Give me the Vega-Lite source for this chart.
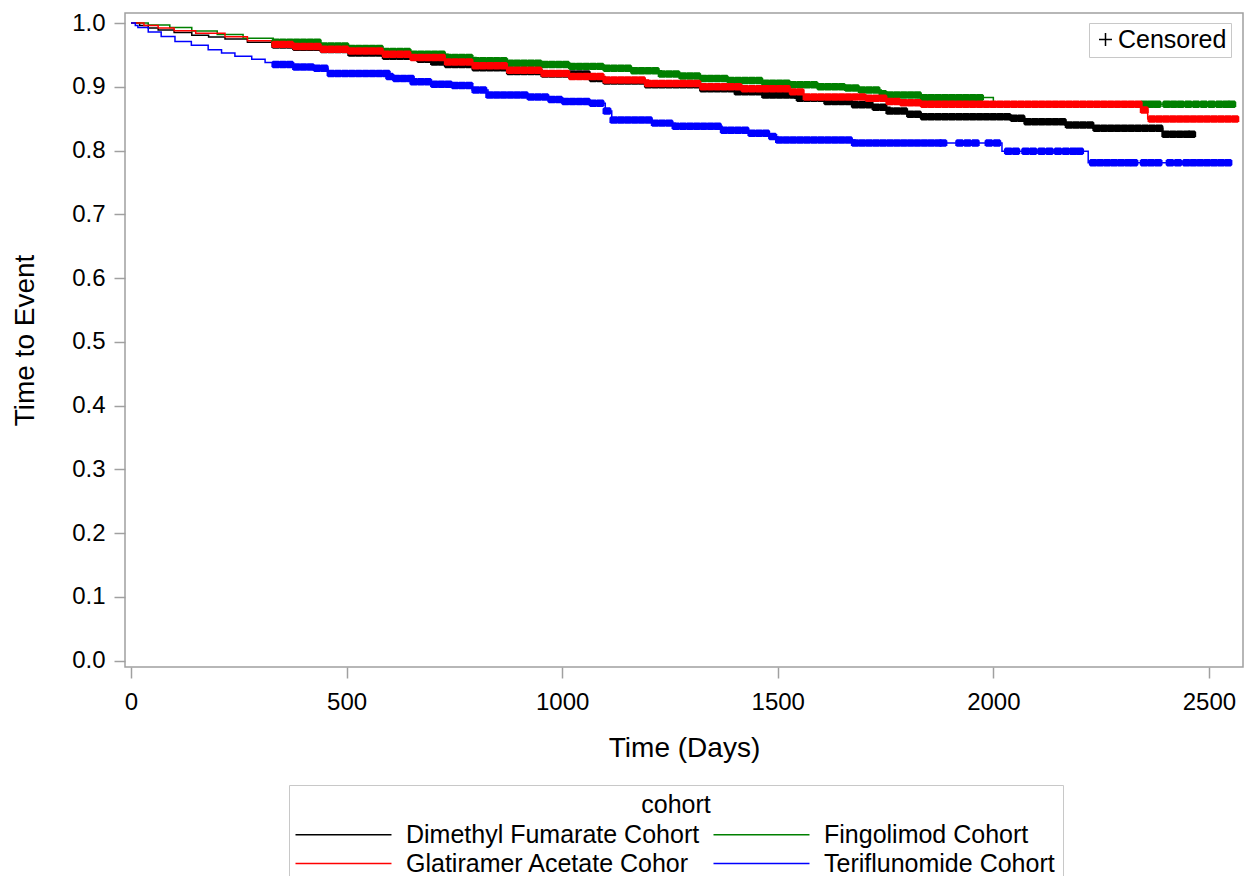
{
"$schema": "https://vega.github.io/schema/vega-lite/v6.json",
"width": 1118, "height": 654,
"autosize": {"type": "none"},
"padding": {"left": 125, "top": 13, "right": 10, "bottom": 209},
"background": "white",
"config": {
  "font": "Liberation Sans",
  "view": {"stroke": "#a0a0a0", "strokeWidth": 1.5},
  "axis": {"domain": false, "grid": false, "tickColor": "#a0a0a0", "tickWidth": 1.5, "tickSize": 11, "labelFontSize": 24, "labelColor": "black", "titleFontSize": 28, "titleFontWeight": "normal", "titleColor": "black"},
  "legend": {"labelFontSize": 25, "titleFontSize": 25, "titleFontWeight": "normal", "labelColor": "black", "titleColor": "black", "labelLimit": 500}
},
"datasets": {
"curve": [
{"c":"Dimethyl Fumarate Cohort","t":0,"s":1},{"c":"Dimethyl Fumarate Cohort","t":20,"s":0.996},{"c":"Dimethyl Fumarate Cohort","t":40,"s":0.992},{"c":"Dimethyl Fumarate Cohort","t":63,"s":0.989},{"c":"Dimethyl Fumarate Cohort","t":100,"s":0.985},{"c":"Dimethyl Fumarate Cohort","t":141,"s":0.981},{"c":"Dimethyl Fumarate Cohort","t":180,"s":0.978},{"c":"Dimethyl Fumarate Cohort","t":218,"s":0.975},{"c":"Dimethyl Fumarate Cohort","t":270,"s":0.97},{"c":"Dimethyl Fumarate Cohort","t":327,"s":0.9655},{"c":"Dimethyl Fumarate Cohort","t":380,"s":0.962},{"c":"Dimethyl Fumarate Cohort","t":438,"s":0.9585},{"c":"Dimethyl Fumarate Cohort","t":503,"s":0.953},{"c":"Dimethyl Fumarate Cohort","t":582,"s":0.948},{"c":"Dimethyl Fumarate Cohort","t":659,"s":0.943},{"c":"Dimethyl Fumarate Cohort","t":700,"s":0.939},{"c":"Dimethyl Fumarate Cohort","t":735,"s":0.935},{"c":"Dimethyl Fumarate Cohort","t":800,"s":0.93},{"c":"Dimethyl Fumarate Cohort","t":879,"s":0.924},{"c":"Dimethyl Fumarate Cohort","t":960,"s":0.92},{"c":"Dimethyl Fumarate Cohort","t":1060,"s":0.913},{"c":"Dimethyl Fumarate Cohort","t":1100,"s":0.909},{"c":"Dimethyl Fumarate Cohort","t":1200,"s":0.903},{"c":"Dimethyl Fumarate Cohort","t":1320,"s":0.897},{"c":"Dimethyl Fumarate Cohort","t":1400,"s":0.892},{"c":"Dimethyl Fumarate Cohort","t":1463,"s":0.887},{"c":"Dimethyl Fumarate Cohort","t":1540,"s":0.882},{"c":"Dimethyl Fumarate Cohort","t":1616,"s":0.877},{"c":"Dimethyl Fumarate Cohort","t":1680,"s":0.872},{"c":"Dimethyl Fumarate Cohort","t":1718,"s":0.868},{"c":"Dimethyl Fumarate Cohort","t":1760,"s":0.862},{"c":"Dimethyl Fumarate Cohort","t":1800,"s":0.857},{"c":"Dimethyl Fumarate Cohort","t":1825,"s":0.853},{"c":"Dimethyl Fumarate Cohort","t":2043,"s":0.8505},{"c":"Dimethyl Fumarate Cohort","t":2073,"s":0.845},{"c":"Dimethyl Fumarate Cohort","t":2166,"s":0.84},{"c":"Dimethyl Fumarate Cohort","t":2231,"s":0.835},{"c":"Dimethyl Fumarate Cohort","t":2393,"s":0.8255},{"c":"Dimethyl Fumarate Cohort","t":2463,"s":0.8255},
{"c":"Fingolimod Cohort","t":0,"s":1},{"c":"Fingolimod Cohort","t":40,"s":0.997},{"c":"Fingolimod Cohort","t":90,"s":0.993},{"c":"Fingolimod Cohort","t":141,"s":0.9875},{"c":"Fingolimod Cohort","t":200,"s":0.982},{"c":"Fingolimod Cohort","t":260,"s":0.976},{"c":"Fingolimod Cohort","t":330,"s":0.97},{"c":"Fingolimod Cohort","t":438,"s":0.964},{"c":"Fingolimod Cohort","t":500,"s":0.96},{"c":"Fingolimod Cohort","t":582,"s":0.9555},{"c":"Fingolimod Cohort","t":650,"s":0.951},{"c":"Fingolimod Cohort","t":735,"s":0.946},{"c":"Fingolimod Cohort","t":800,"s":0.941},{"c":"Fingolimod Cohort","t":879,"s":0.937},{"c":"Fingolimod Cohort","t":950,"s":0.935},{"c":"Fingolimod Cohort","t":1020,"s":0.932},{"c":"Fingolimod Cohort","t":1100,"s":0.929},{"c":"Fingolimod Cohort","t":1160,"s":0.925},{"c":"Fingolimod Cohort","t":1230,"s":0.92},{"c":"Fingolimod Cohort","t":1280,"s":0.917},{"c":"Fingolimod Cohort","t":1320,"s":0.913},{"c":"Fingolimod Cohort","t":1380,"s":0.91},{"c":"Fingolimod Cohort","t":1463,"s":0.9055},{"c":"Fingolimod Cohort","t":1530,"s":0.903},{"c":"Fingolimod Cohort","t":1600,"s":0.9},{"c":"Fingolimod Cohort","t":1650,"s":0.898},{"c":"Fingolimod Cohort","t":1695,"s":0.895},{"c":"Fingolimod Cohort","t":1740,"s":0.889},{"c":"Fingolimod Cohort","t":1760,"s":0.887},{"c":"Fingolimod Cohort","t":1825,"s":0.883},{"c":"Fingolimod Cohort","t":2000,"s":0.8725},{"c":"Fingolimod Cohort","t":2553,"s":0.8725},
{"c":"Glatiramer Acetate Cohor","t":0,"s":1},{"c":"Glatiramer Acetate Cohor","t":30,"s":0.996},{"c":"Glatiramer Acetate Cohor","t":63,"s":0.992},{"c":"Glatiramer Acetate Cohor","t":100,"s":0.988},{"c":"Glatiramer Acetate Cohor","t":150,"s":0.984},{"c":"Glatiramer Acetate Cohor","t":218,"s":0.9785},{"c":"Glatiramer Acetate Cohor","t":270,"s":0.972},{"c":"Glatiramer Acetate Cohor","t":327,"s":0.9665},{"c":"Glatiramer Acetate Cohor","t":380,"s":0.963},{"c":"Glatiramer Acetate Cohor","t":438,"s":0.959},{"c":"Glatiramer Acetate Cohor","t":500,"s":0.956},{"c":"Glatiramer Acetate Cohor","t":582,"s":0.951},{"c":"Glatiramer Acetate Cohor","t":650,"s":0.946},{"c":"Glatiramer Acetate Cohor","t":735,"s":0.939},{"c":"Glatiramer Acetate Cohor","t":800,"s":0.933},{"c":"Glatiramer Acetate Cohor","t":879,"s":0.926},{"c":"Glatiramer Acetate Cohor","t":950,"s":0.921},{"c":"Glatiramer Acetate Cohor","t":1020,"s":0.916},{"c":"Glatiramer Acetate Cohor","t":1100,"s":0.9106},{"c":"Glatiramer Acetate Cohor","t":1200,"s":0.905},{"c":"Glatiramer Acetate Cohor","t":1320,"s":0.9},{"c":"Glatiramer Acetate Cohor","t":1420,"s":0.897},{"c":"Glatiramer Acetate Cohor","t":1524,"s":0.892},{"c":"Glatiramer Acetate Cohor","t":1556,"s":0.884},{"c":"Glatiramer Acetate Cohor","t":1709,"s":0.882},{"c":"Glatiramer Acetate Cohor","t":1760,"s":0.877},{"c":"Glatiramer Acetate Cohor","t":1790,"s":0.875},{"c":"Glatiramer Acetate Cohor","t":1825,"s":0.8725},{"c":"Glatiramer Acetate Cohor","t":2345,"s":0.8635},{"c":"Glatiramer Acetate Cohor","t":2358,"s":0.8495},{"c":"Glatiramer Acetate Cohor","t":2560,"s":0.8495},
{"c":"Teriflunomide Cohort","t":0,"s":1},{"c":"Teriflunomide Cohort","t":10,"s":0.996},{"c":"Teriflunomide Cohort","t":16,"s":0.993},{"c":"Teriflunomide Cohort","t":40,"s":0.986},{"c":"Teriflunomide Cohort","t":70,"s":0.979},{"c":"Teriflunomide Cohort","t":102,"s":0.971},{"c":"Teriflunomide Cohort","t":140,"s":0.965},{"c":"Teriflunomide Cohort","t":179,"s":0.958},{"c":"Teriflunomide Cohort","t":210,"s":0.953},{"c":"Teriflunomide Cohort","t":241,"s":0.948},{"c":"Teriflunomide Cohort","t":280,"s":0.943},{"c":"Teriflunomide Cohort","t":311,"s":0.938},{"c":"Teriflunomide Cohort","t":329,"s":0.935},{"c":"Teriflunomide Cohort","t":380,"s":0.931},{"c":"Teriflunomide Cohort","t":427,"s":0.929},{"c":"Teriflunomide Cohort","t":457,"s":0.921},{"c":"Teriflunomide Cohort","t":595,"s":0.916},{"c":"Teriflunomide Cohort","t":612,"s":0.913},{"c":"Teriflunomide Cohort","t":652,"s":0.908},{"c":"Teriflunomide Cohort","t":689,"s":0.904},{"c":"Teriflunomide Cohort","t":751,"s":0.902},{"c":"Teriflunomide Cohort","t":791,"s":0.895},{"c":"Teriflunomide Cohort","t":828,"s":0.887},{"c":"Teriflunomide Cohort","t":914,"s":0.884},{"c":"Teriflunomide Cohort","t":967,"s":0.88},{"c":"Teriflunomide Cohort","t":1000,"s":0.877},{"c":"Teriflunomide Cohort","t":1060,"s":0.874},{"c":"Teriflunomide Cohort","t":1100,"s":0.862},{"c":"Teriflunomide Cohort","t":1115,"s":0.848},{"c":"Teriflunomide Cohort","t":1208,"s":0.843},{"c":"Teriflunomide Cohort","t":1262,"s":0.838},{"c":"Teriflunomide Cohort","t":1371,"s":0.832},{"c":"Teriflunomide Cohort","t":1431,"s":0.827},{"c":"Teriflunomide Cohort","t":1480,"s":0.822},{"c":"Teriflunomide Cohort","t":1500,"s":0.8165},{"c":"Teriflunomide Cohort","t":1679,"s":0.812},{"c":"Teriflunomide Cohort","t":2020,"s":0.799},{"c":"Teriflunomide Cohort","t":2220,"s":0.781},{"c":"Teriflunomide Cohort","t":2544,"s":0.781}
],
"censor": [
{"c":"Dimethyl Fumarate Cohort","t":336,"s":0.9655},{"c":"Dimethyl Fumarate Cohort","t":352,"s":0.9655},{"c":"Dimethyl Fumarate Cohort","t":368,"s":0.9655},
{"c":"Dimethyl Fumarate Cohort","t":384,"s":0.962},{"c":"Dimethyl Fumarate Cohort","t":400,"s":0.962},{"c":"Dimethyl Fumarate Cohort","t":416,"s":0.962},{"c":"Dimethyl Fumarate Cohort","t":432,"s":0.962},
{"c":"Dimethyl Fumarate Cohort","t":448,"s":0.9585},{"c":"Dimethyl Fumarate Cohort","t":464,"s":0.9585},{"c":"Dimethyl Fumarate Cohort","t":480,"s":0.9585},{"c":"Dimethyl Fumarate Cohort","t":496,"s":0.9585},
{"c":"Dimethyl Fumarate Cohort","t":512,"s":0.953},{"c":"Dimethyl Fumarate Cohort","t":528,"s":0.953},{"c":"Dimethyl Fumarate Cohort","t":544,"s":0.953},{"c":"Dimethyl Fumarate Cohort","t":560,"s":0.953},{"c":"Dimethyl Fumarate Cohort","t":576,"s":0.953},
{"c":"Dimethyl Fumarate Cohort","t":592,"s":0.948},{"c":"Dimethyl Fumarate Cohort","t":608,"s":0.948},{"c":"Dimethyl Fumarate Cohort","t":624,"s":0.948},{"c":"Dimethyl Fumarate Cohort","t":640,"s":0.948},{"c":"Dimethyl Fumarate Cohort","t":656,"s":0.948},
{"c":"Dimethyl Fumarate Cohort","t":672,"s":0.943},{"c":"Dimethyl Fumarate Cohort","t":688,"s":0.943},
{"c":"Dimethyl Fumarate Cohort","t":704,"s":0.939},{"c":"Dimethyl Fumarate Cohort","t":720,"s":0.939},
{"c":"Dimethyl Fumarate Cohort","t":736,"s":0.935},{"c":"Dimethyl Fumarate Cohort","t":752,"s":0.935},{"c":"Dimethyl Fumarate Cohort","t":768,"s":0.935},{"c":"Dimethyl Fumarate Cohort","t":784,"s":0.935},
{"c":"Dimethyl Fumarate Cohort","t":800,"s":0.93},{"c":"Dimethyl Fumarate Cohort","t":816,"s":0.93},{"c":"Dimethyl Fumarate Cohort","t":832,"s":0.93},{"c":"Dimethyl Fumarate Cohort","t":848,"s":0.93},{"c":"Dimethyl Fumarate Cohort","t":864,"s":0.93},
{"c":"Dimethyl Fumarate Cohort","t":880,"s":0.924},{"c":"Dimethyl Fumarate Cohort","t":896,"s":0.924},{"c":"Dimethyl Fumarate Cohort","t":912,"s":0.924},{"c":"Dimethyl Fumarate Cohort","t":928,"s":0.924},{"c":"Dimethyl Fumarate Cohort","t":944,"s":0.924},
{"c":"Dimethyl Fumarate Cohort","t":960,"s":0.92},{"c":"Dimethyl Fumarate Cohort","t":976,"s":0.92},{"c":"Dimethyl Fumarate Cohort","t":992,"s":0.92},{"c":"Dimethyl Fumarate Cohort","t":1008,"s":0.92},{"c":"Dimethyl Fumarate Cohort","t":1024,"s":0.92},{"c":"Dimethyl Fumarate Cohort","t":1040,"s":0.92},{"c":"Dimethyl Fumarate Cohort","t":1056,"s":0.92},
{"c":"Dimethyl Fumarate Cohort","t":1072,"s":0.913},{"c":"Dimethyl Fumarate Cohort","t":1088,"s":0.913},
{"c":"Dimethyl Fumarate Cohort","t":1104,"s":0.909},{"c":"Dimethyl Fumarate Cohort","t":1120,"s":0.909},{"c":"Dimethyl Fumarate Cohort","t":1136,"s":0.909},{"c":"Dimethyl Fumarate Cohort","t":1152,"s":0.909},{"c":"Dimethyl Fumarate Cohort","t":1168,"s":0.909},{"c":"Dimethyl Fumarate Cohort","t":1184,"s":0.909},
{"c":"Dimethyl Fumarate Cohort","t":1200,"s":0.903},{"c":"Dimethyl Fumarate Cohort","t":1216,"s":0.903},{"c":"Dimethyl Fumarate Cohort","t":1232,"s":0.903},{"c":"Dimethyl Fumarate Cohort","t":1248,"s":0.903},{"c":"Dimethyl Fumarate Cohort","t":1264,"s":0.903},{"c":"Dimethyl Fumarate Cohort","t":1280,"s":0.903},{"c":"Dimethyl Fumarate Cohort","t":1296,"s":0.903},{"c":"Dimethyl Fumarate Cohort","t":1312,"s":0.903},
{"c":"Dimethyl Fumarate Cohort","t":1328,"s":0.897},{"c":"Dimethyl Fumarate Cohort","t":1344,"s":0.897},{"c":"Dimethyl Fumarate Cohort","t":1360,"s":0.897},{"c":"Dimethyl Fumarate Cohort","t":1376,"s":0.897},{"c":"Dimethyl Fumarate Cohort","t":1392,"s":0.897},
{"c":"Dimethyl Fumarate Cohort","t":1408,"s":0.892},{"c":"Dimethyl Fumarate Cohort","t":1424,"s":0.892},{"c":"Dimethyl Fumarate Cohort","t":1440,"s":0.892},{"c":"Dimethyl Fumarate Cohort","t":1456,"s":0.892},
{"c":"Dimethyl Fumarate Cohort","t":1472,"s":0.887},{"c":"Dimethyl Fumarate Cohort","t":1488,"s":0.887},{"c":"Dimethyl Fumarate Cohort","t":1504,"s":0.887},{"c":"Dimethyl Fumarate Cohort","t":1520,"s":0.887},{"c":"Dimethyl Fumarate Cohort","t":1536,"s":0.887},
{"c":"Dimethyl Fumarate Cohort","t":1552,"s":0.882},{"c":"Dimethyl Fumarate Cohort","t":1568,"s":0.882},{"c":"Dimethyl Fumarate Cohort","t":1584,"s":0.882},{"c":"Dimethyl Fumarate Cohort","t":1600,"s":0.882},
{"c":"Dimethyl Fumarate Cohort","t":1616,"s":0.877},{"c":"Dimethyl Fumarate Cohort","t":1632,"s":0.877},{"c":"Dimethyl Fumarate Cohort","t":1648,"s":0.877},{"c":"Dimethyl Fumarate Cohort","t":1664,"s":0.877},
{"c":"Dimethyl Fumarate Cohort","t":1680,"s":0.872},{"c":"Dimethyl Fumarate Cohort","t":1696,"s":0.872},{"c":"Dimethyl Fumarate Cohort","t":1712,"s":0.872},
{"c":"Dimethyl Fumarate Cohort","t":1728,"s":0.868},{"c":"Dimethyl Fumarate Cohort","t":1744,"s":0.868},
{"c":"Dimethyl Fumarate Cohort","t":1760,"s":0.862},{"c":"Dimethyl Fumarate Cohort","t":1776,"s":0.862},{"c":"Dimethyl Fumarate Cohort","t":1792,"s":0.862},
{"c":"Dimethyl Fumarate Cohort","t":1808,"s":0.857},{"c":"Dimethyl Fumarate Cohort","t":1824,"s":0.857},
{"c":"Dimethyl Fumarate Cohort","t":1840,"s":0.853},{"c":"Dimethyl Fumarate Cohort","t":1856,"s":0.853},{"c":"Dimethyl Fumarate Cohort","t":1872,"s":0.853},{"c":"Dimethyl Fumarate Cohort","t":1888,"s":0.853},{"c":"Dimethyl Fumarate Cohort","t":1904,"s":0.853},{"c":"Dimethyl Fumarate Cohort","t":1920,"s":0.853},{"c":"Dimethyl Fumarate Cohort","t":1936,"s":0.853},{"c":"Dimethyl Fumarate Cohort","t":1952,"s":0.853},{"c":"Dimethyl Fumarate Cohort","t":1968,"s":0.853},{"c":"Dimethyl Fumarate Cohort","t":1984,"s":0.853},{"c":"Dimethyl Fumarate Cohort","t":2000,"s":0.853},{"c":"Dimethyl Fumarate Cohort","t":2016,"s":0.853},{"c":"Dimethyl Fumarate Cohort","t":2032,"s":0.853},
{"c":"Dimethyl Fumarate Cohort","t":2048,"s":0.8505},{"c":"Dimethyl Fumarate Cohort","t":2064,"s":0.8505},
{"c":"Dimethyl Fumarate Cohort","t":2080,"s":0.845},{"c":"Dimethyl Fumarate Cohort","t":2096,"s":0.845},{"c":"Dimethyl Fumarate Cohort","t":2112,"s":0.845},{"c":"Dimethyl Fumarate Cohort","t":2128,"s":0.845},{"c":"Dimethyl Fumarate Cohort","t":2144,"s":0.845},{"c":"Dimethyl Fumarate Cohort","t":2160,"s":0.845},
{"c":"Dimethyl Fumarate Cohort","t":2176,"s":0.84},{"c":"Dimethyl Fumarate Cohort","t":2192,"s":0.84},{"c":"Dimethyl Fumarate Cohort","t":2208,"s":0.84},{"c":"Dimethyl Fumarate Cohort","t":2224,"s":0.84},
{"c":"Dimethyl Fumarate Cohort","t":2240,"s":0.835},{"c":"Dimethyl Fumarate Cohort","t":2256,"s":0.835},{"c":"Dimethyl Fumarate Cohort","t":2272,"s":0.835},{"c":"Dimethyl Fumarate Cohort","t":2288,"s":0.835},{"c":"Dimethyl Fumarate Cohort","t":2304,"s":0.835},{"c":"Dimethyl Fumarate Cohort","t":2320,"s":0.835},{"c":"Dimethyl Fumarate Cohort","t":2336,"s":0.835},{"c":"Dimethyl Fumarate Cohort","t":2352,"s":0.835},{"c":"Dimethyl Fumarate Cohort","t":2368,"s":0.835},{"c":"Dimethyl Fumarate Cohort","t":2384,"s":0.835},
{"c":"Dimethyl Fumarate Cohort","t":2400,"s":0.8255},{"c":"Dimethyl Fumarate Cohort","t":2416,"s":0.8255},{"c":"Dimethyl Fumarate Cohort","t":2432,"s":0.8255},{"c":"Dimethyl Fumarate Cohort","t":2448,"s":0.8255},{"c":"Dimethyl Fumarate Cohort","t":2460,"s":0.8255},

{"c":"Fingolimod Cohort","t":336,"s":0.97},{"c":"Fingolimod Cohort","t":352,"s":0.97},{"c":"Fingolimod Cohort","t":368,"s":0.97},{"c":"Fingolimod Cohort","t":384,"s":0.97},{"c":"Fingolimod Cohort","t":400,"s":0.97},{"c":"Fingolimod Cohort","t":416,"s":0.97},{"c":"Fingolimod Cohort","t":432,"s":0.97},
{"c":"Fingolimod Cohort","t":448,"s":0.964},{"c":"Fingolimod Cohort","t":464,"s":0.964},{"c":"Fingolimod Cohort","t":480,"s":0.964},{"c":"Fingolimod Cohort","t":496,"s":0.964},
{"c":"Fingolimod Cohort","t":512,"s":0.96},{"c":"Fingolimod Cohort","t":528,"s":0.96},{"c":"Fingolimod Cohort","t":544,"s":0.96},{"c":"Fingolimod Cohort","t":560,"s":0.96},{"c":"Fingolimod Cohort","t":576,"s":0.96},
{"c":"Fingolimod Cohort","t":592,"s":0.9555},{"c":"Fingolimod Cohort","t":608,"s":0.9555},{"c":"Fingolimod Cohort","t":624,"s":0.9555},{"c":"Fingolimod Cohort","t":640,"s":0.9555},
{"c":"Fingolimod Cohort","t":656,"s":0.951},{"c":"Fingolimod Cohort","t":672,"s":0.951},{"c":"Fingolimod Cohort","t":688,"s":0.951},{"c":"Fingolimod Cohort","t":704,"s":0.951},{"c":"Fingolimod Cohort","t":720,"s":0.951},
{"c":"Fingolimod Cohort","t":736,"s":0.946},{"c":"Fingolimod Cohort","t":752,"s":0.946},{"c":"Fingolimod Cohort","t":768,"s":0.946},{"c":"Fingolimod Cohort","t":784,"s":0.946},
{"c":"Fingolimod Cohort","t":800,"s":0.941},{"c":"Fingolimod Cohort","t":816,"s":0.941},{"c":"Fingolimod Cohort","t":832,"s":0.941},{"c":"Fingolimod Cohort","t":848,"s":0.941},{"c":"Fingolimod Cohort","t":864,"s":0.941},
{"c":"Fingolimod Cohort","t":880,"s":0.937},{"c":"Fingolimod Cohort","t":896,"s":0.937},{"c":"Fingolimod Cohort","t":912,"s":0.937},{"c":"Fingolimod Cohort","t":928,"s":0.937},{"c":"Fingolimod Cohort","t":944,"s":0.937},
{"c":"Fingolimod Cohort","t":960,"s":0.935},{"c":"Fingolimod Cohort","t":976,"s":0.935},{"c":"Fingolimod Cohort","t":992,"s":0.935},{"c":"Fingolimod Cohort","t":1008,"s":0.935},
{"c":"Fingolimod Cohort","t":1024,"s":0.932},{"c":"Fingolimod Cohort","t":1040,"s":0.932},{"c":"Fingolimod Cohort","t":1056,"s":0.932},{"c":"Fingolimod Cohort","t":1072,"s":0.932},{"c":"Fingolimod Cohort","t":1088,"s":0.932},
{"c":"Fingolimod Cohort","t":1104,"s":0.929},{"c":"Fingolimod Cohort","t":1120,"s":0.929},{"c":"Fingolimod Cohort","t":1136,"s":0.929},{"c":"Fingolimod Cohort","t":1152,"s":0.929},
{"c":"Fingolimod Cohort","t":1168,"s":0.925},{"c":"Fingolimod Cohort","t":1184,"s":0.925},{"c":"Fingolimod Cohort","t":1200,"s":0.925},{"c":"Fingolimod Cohort","t":1216,"s":0.925},
{"c":"Fingolimod Cohort","t":1232,"s":0.92},{"c":"Fingolimod Cohort","t":1248,"s":0.92},{"c":"Fingolimod Cohort","t":1264,"s":0.92},
{"c":"Fingolimod Cohort","t":1280,"s":0.917},{"c":"Fingolimod Cohort","t":1296,"s":0.917},{"c":"Fingolimod Cohort","t":1312,"s":0.917},
{"c":"Fingolimod Cohort","t":1328,"s":0.913},{"c":"Fingolimod Cohort","t":1344,"s":0.913},{"c":"Fingolimod Cohort","t":1360,"s":0.913},{"c":"Fingolimod Cohort","t":1376,"s":0.913},
{"c":"Fingolimod Cohort","t":1392,"s":0.91},{"c":"Fingolimod Cohort","t":1408,"s":0.91},{"c":"Fingolimod Cohort","t":1424,"s":0.91},{"c":"Fingolimod Cohort","t":1440,"s":0.91},{"c":"Fingolimod Cohort","t":1456,"s":0.91},
{"c":"Fingolimod Cohort","t":1472,"s":0.9055},{"c":"Fingolimod Cohort","t":1488,"s":0.9055},{"c":"Fingolimod Cohort","t":1504,"s":0.9055},{"c":"Fingolimod Cohort","t":1520,"s":0.9055},
{"c":"Fingolimod Cohort","t":1536,"s":0.903},{"c":"Fingolimod Cohort","t":1552,"s":0.903},{"c":"Fingolimod Cohort","t":1568,"s":0.903},{"c":"Fingolimod Cohort","t":1584,"s":0.903},
{"c":"Fingolimod Cohort","t":1600,"s":0.9},{"c":"Fingolimod Cohort","t":1616,"s":0.9},{"c":"Fingolimod Cohort","t":1632,"s":0.9},{"c":"Fingolimod Cohort","t":1648,"s":0.9},
{"c":"Fingolimod Cohort","t":1664,"s":0.898},{"c":"Fingolimod Cohort","t":1680,"s":0.898},
{"c":"Fingolimod Cohort","t":1696,"s":0.895},{"c":"Fingolimod Cohort","t":1712,"s":0.895},{"c":"Fingolimod Cohort","t":1728,"s":0.895},
{"c":"Fingolimod Cohort","t":1744,"s":0.889},
{"c":"Fingolimod Cohort","t":1760,"s":0.887},{"c":"Fingolimod Cohort","t":1776,"s":0.887},{"c":"Fingolimod Cohort","t":1792,"s":0.887},{"c":"Fingolimod Cohort","t":1808,"s":0.887},{"c":"Fingolimod Cohort","t":1824,"s":0.887},
{"c":"Fingolimod Cohort","t":1840,"s":0.883},{"c":"Fingolimod Cohort","t":1856,"s":0.883},{"c":"Fingolimod Cohort","t":1872,"s":0.883},{"c":"Fingolimod Cohort","t":1888,"s":0.883},{"c":"Fingolimod Cohort","t":1904,"s":0.883},{"c":"Fingolimod Cohort","t":1920,"s":0.883},{"c":"Fingolimod Cohort","t":1936,"s":0.883},{"c":"Fingolimod Cohort","t":1952,"s":0.883},{"c":"Fingolimod Cohort","t":1968,"s":0.883},
{"c":"Fingolimod Cohort","t":2350,"s":0.8725},{"c":"Fingolimod Cohort","t":2365,"s":0.8725},{"c":"Fingolimod Cohort","t":2380,"s":0.8725},{"c":"Fingolimod Cohort","t":2402,"s":0.8725},{"c":"Fingolimod Cohort","t":2418,"s":0.8725},{"c":"Fingolimod Cohort","t":2434,"s":0.8725},{"c":"Fingolimod Cohort","t":2452,"s":0.8725},{"c":"Fingolimod Cohort","t":2470,"s":0.8725},{"c":"Fingolimod Cohort","t":2488,"s":0.8725},{"c":"Fingolimod Cohort","t":2506,"s":0.8725},{"c":"Fingolimod Cohort","t":2524,"s":0.8725},{"c":"Fingolimod Cohort","t":2540,"s":0.8725},{"c":"Fingolimod Cohort","t":2553,"s":0.8725},

{"c":"Glatiramer Acetate Cohor","t":336,"s":0.9665},{"c":"Glatiramer Acetate Cohor","t":352,"s":0.9665},{"c":"Glatiramer Acetate Cohor","t":368,"s":0.9665},
{"c":"Glatiramer Acetate Cohor","t":384,"s":0.963},{"c":"Glatiramer Acetate Cohor","t":400,"s":0.963},{"c":"Glatiramer Acetate Cohor","t":416,"s":0.963},{"c":"Glatiramer Acetate Cohor","t":432,"s":0.963},
{"c":"Glatiramer Acetate Cohor","t":448,"s":0.959},{"c":"Glatiramer Acetate Cohor","t":464,"s":0.959},{"c":"Glatiramer Acetate Cohor","t":480,"s":0.959},{"c":"Glatiramer Acetate Cohor","t":496,"s":0.959},
{"c":"Glatiramer Acetate Cohor","t":512,"s":0.956},{"c":"Glatiramer Acetate Cohor","t":528,"s":0.956},{"c":"Glatiramer Acetate Cohor","t":544,"s":0.956},{"c":"Glatiramer Acetate Cohor","t":560,"s":0.956},{"c":"Glatiramer Acetate Cohor","t":576,"s":0.956},
{"c":"Glatiramer Acetate Cohor","t":592,"s":0.951},{"c":"Glatiramer Acetate Cohor","t":608,"s":0.951},{"c":"Glatiramer Acetate Cohor","t":624,"s":0.951},{"c":"Glatiramer Acetate Cohor","t":640,"s":0.951},
{"c":"Glatiramer Acetate Cohor","t":656,"s":0.946},{"c":"Glatiramer Acetate Cohor","t":672,"s":0.946},{"c":"Glatiramer Acetate Cohor","t":688,"s":0.946},{"c":"Glatiramer Acetate Cohor","t":704,"s":0.946},{"c":"Glatiramer Acetate Cohor","t":720,"s":0.946},
{"c":"Glatiramer Acetate Cohor","t":736,"s":0.939},{"c":"Glatiramer Acetate Cohor","t":752,"s":0.939},{"c":"Glatiramer Acetate Cohor","t":768,"s":0.939},{"c":"Glatiramer Acetate Cohor","t":784,"s":0.939},
{"c":"Glatiramer Acetate Cohor","t":800,"s":0.933},{"c":"Glatiramer Acetate Cohor","t":816,"s":0.933},{"c":"Glatiramer Acetate Cohor","t":832,"s":0.933},{"c":"Glatiramer Acetate Cohor","t":848,"s":0.933},{"c":"Glatiramer Acetate Cohor","t":864,"s":0.933},
{"c":"Glatiramer Acetate Cohor","t":880,"s":0.926},{"c":"Glatiramer Acetate Cohor","t":896,"s":0.926},{"c":"Glatiramer Acetate Cohor","t":912,"s":0.926},{"c":"Glatiramer Acetate Cohor","t":928,"s":0.926},{"c":"Glatiramer Acetate Cohor","t":944,"s":0.926},
{"c":"Glatiramer Acetate Cohor","t":960,"s":0.921},{"c":"Glatiramer Acetate Cohor","t":976,"s":0.921},{"c":"Glatiramer Acetate Cohor","t":992,"s":0.921},{"c":"Glatiramer Acetate Cohor","t":1008,"s":0.921},
{"c":"Glatiramer Acetate Cohor","t":1024,"s":0.916},{"c":"Glatiramer Acetate Cohor","t":1040,"s":0.916},{"c":"Glatiramer Acetate Cohor","t":1056,"s":0.916},{"c":"Glatiramer Acetate Cohor","t":1072,"s":0.916},{"c":"Glatiramer Acetate Cohor","t":1088,"s":0.916},
{"c":"Glatiramer Acetate Cohor","t":1104,"s":0.9106},{"c":"Glatiramer Acetate Cohor","t":1120,"s":0.9106},{"c":"Glatiramer Acetate Cohor","t":1136,"s":0.9106},{"c":"Glatiramer Acetate Cohor","t":1152,"s":0.9106},{"c":"Glatiramer Acetate Cohor","t":1168,"s":0.9106},{"c":"Glatiramer Acetate Cohor","t":1184,"s":0.9106},
{"c":"Glatiramer Acetate Cohor","t":1200,"s":0.905},{"c":"Glatiramer Acetate Cohor","t":1216,"s":0.905},{"c":"Glatiramer Acetate Cohor","t":1232,"s":0.905},{"c":"Glatiramer Acetate Cohor","t":1248,"s":0.905},{"c":"Glatiramer Acetate Cohor","t":1264,"s":0.905},{"c":"Glatiramer Acetate Cohor","t":1280,"s":0.905},{"c":"Glatiramer Acetate Cohor","t":1296,"s":0.905},{"c":"Glatiramer Acetate Cohor","t":1312,"s":0.905},
{"c":"Glatiramer Acetate Cohor","t":1328,"s":0.9},{"c":"Glatiramer Acetate Cohor","t":1344,"s":0.9},{"c":"Glatiramer Acetate Cohor","t":1360,"s":0.9},{"c":"Glatiramer Acetate Cohor","t":1376,"s":0.9},{"c":"Glatiramer Acetate Cohor","t":1392,"s":0.9},{"c":"Glatiramer Acetate Cohor","t":1408,"s":0.9},
{"c":"Glatiramer Acetate Cohor","t":1424,"s":0.897},{"c":"Glatiramer Acetate Cohor","t":1440,"s":0.897},{"c":"Glatiramer Acetate Cohor","t":1456,"s":0.897},{"c":"Glatiramer Acetate Cohor","t":1472,"s":0.897},{"c":"Glatiramer Acetate Cohor","t":1488,"s":0.897},{"c":"Glatiramer Acetate Cohor","t":1504,"s":0.897},{"c":"Glatiramer Acetate Cohor","t":1520,"s":0.897},
{"c":"Glatiramer Acetate Cohor","t":1536,"s":0.892},{"c":"Glatiramer Acetate Cohor","t":1552,"s":0.892},
{"c":"Glatiramer Acetate Cohor","t":1568,"s":0.884},{"c":"Glatiramer Acetate Cohor","t":1584,"s":0.884},{"c":"Glatiramer Acetate Cohor","t":1600,"s":0.884},{"c":"Glatiramer Acetate Cohor","t":1616,"s":0.884},{"c":"Glatiramer Acetate Cohor","t":1632,"s":0.884},{"c":"Glatiramer Acetate Cohor","t":1648,"s":0.884},{"c":"Glatiramer Acetate Cohor","t":1664,"s":0.884},{"c":"Glatiramer Acetate Cohor","t":1680,"s":0.884},{"c":"Glatiramer Acetate Cohor","t":1696,"s":0.884},
{"c":"Glatiramer Acetate Cohor","t":1712,"s":0.882},{"c":"Glatiramer Acetate Cohor","t":1728,"s":0.882},{"c":"Glatiramer Acetate Cohor","t":1744,"s":0.882},
{"c":"Glatiramer Acetate Cohor","t":1760,"s":0.877},{"c":"Glatiramer Acetate Cohor","t":1776,"s":0.877},
{"c":"Glatiramer Acetate Cohor","t":1792,"s":0.875},{"c":"Glatiramer Acetate Cohor","t":1808,"s":0.875},{"c":"Glatiramer Acetate Cohor","t":1824,"s":0.875},
{"c":"Glatiramer Acetate Cohor","t":1840,"s":0.8725},{"c":"Glatiramer Acetate Cohor","t":1856,"s":0.8725},{"c":"Glatiramer Acetate Cohor","t":1872,"s":0.8725},{"c":"Glatiramer Acetate Cohor","t":1888,"s":0.8725},{"c":"Glatiramer Acetate Cohor","t":1904,"s":0.8725},{"c":"Glatiramer Acetate Cohor","t":1920,"s":0.8725},{"c":"Glatiramer Acetate Cohor","t":1936,"s":0.8725},{"c":"Glatiramer Acetate Cohor","t":1952,"s":0.8725},{"c":"Glatiramer Acetate Cohor","t":1968,"s":0.8725},{"c":"Glatiramer Acetate Cohor","t":1984,"s":0.8725},{"c":"Glatiramer Acetate Cohor","t":2000,"s":0.8725},{"c":"Glatiramer Acetate Cohor","t":2016,"s":0.8725},{"c":"Glatiramer Acetate Cohor","t":2032,"s":0.8725},{"c":"Glatiramer Acetate Cohor","t":2048,"s":0.8725},{"c":"Glatiramer Acetate Cohor","t":2064,"s":0.8725},{"c":"Glatiramer Acetate Cohor","t":2080,"s":0.8725},{"c":"Glatiramer Acetate Cohor","t":2096,"s":0.8725},{"c":"Glatiramer Acetate Cohor","t":2112,"s":0.8725},{"c":"Glatiramer Acetate Cohor","t":2128,"s":0.8725},{"c":"Glatiramer Acetate Cohor","t":2144,"s":0.8725},{"c":"Glatiramer Acetate Cohor","t":2160,"s":0.8725},{"c":"Glatiramer Acetate Cohor","t":2176,"s":0.8725},{"c":"Glatiramer Acetate Cohor","t":2192,"s":0.8725},{"c":"Glatiramer Acetate Cohor","t":2208,"s":0.8725},{"c":"Glatiramer Acetate Cohor","t":2224,"s":0.8725},{"c":"Glatiramer Acetate Cohor","t":2240,"s":0.8725},{"c":"Glatiramer Acetate Cohor","t":2256,"s":0.8725},{"c":"Glatiramer Acetate Cohor","t":2272,"s":0.8725},{"c":"Glatiramer Acetate Cohor","t":2288,"s":0.8725},{"c":"Glatiramer Acetate Cohor","t":2304,"s":0.8725},{"c":"Glatiramer Acetate Cohor","t":2320,"s":0.8725},{"c":"Glatiramer Acetate Cohor","t":2336,"s":0.8725},
{"c":"Glatiramer Acetate Cohor","t":2350,"s":0.8635},
{"c":"Glatiramer Acetate Cohor","t":2368,"s":0.8495},{"c":"Glatiramer Acetate Cohor","t":2384,"s":0.8495},{"c":"Glatiramer Acetate Cohor","t":2400,"s":0.8495},{"c":"Glatiramer Acetate Cohor","t":2416,"s":0.8495},{"c":"Glatiramer Acetate Cohor","t":2432,"s":0.8495},{"c":"Glatiramer Acetate Cohor","t":2448,"s":0.8495},{"c":"Glatiramer Acetate Cohor","t":2464,"s":0.8495},{"c":"Glatiramer Acetate Cohor","t":2480,"s":0.8495},{"c":"Glatiramer Acetate Cohor","t":2496,"s":0.8495},{"c":"Glatiramer Acetate Cohor","t":2512,"s":0.8495},{"c":"Glatiramer Acetate Cohor","t":2528,"s":0.8495},{"c":"Glatiramer Acetate Cohor","t":2544,"s":0.8495},{"c":"Glatiramer Acetate Cohor","t":2560,"s":0.8495},

{"c":"Teriflunomide Cohort","t":336,"s":0.935},{"c":"Teriflunomide Cohort","t":352,"s":0.935},{"c":"Teriflunomide Cohort","t":368,"s":0.935},
{"c":"Teriflunomide Cohort","t":384,"s":0.931},{"c":"Teriflunomide Cohort","t":400,"s":0.931},{"c":"Teriflunomide Cohort","t":416,"s":0.931},
{"c":"Teriflunomide Cohort","t":432,"s":0.929},{"c":"Teriflunomide Cohort","t":448,"s":0.929},
{"c":"Teriflunomide Cohort","t":464,"s":0.921},{"c":"Teriflunomide Cohort","t":480,"s":0.921},{"c":"Teriflunomide Cohort","t":496,"s":0.921},{"c":"Teriflunomide Cohort","t":512,"s":0.921},{"c":"Teriflunomide Cohort","t":528,"s":0.921},{"c":"Teriflunomide Cohort","t":544,"s":0.921},{"c":"Teriflunomide Cohort","t":560,"s":0.921},{"c":"Teriflunomide Cohort","t":576,"s":0.921},{"c":"Teriflunomide Cohort","t":592,"s":0.921},
{"c":"Teriflunomide Cohort","t":600,"s":0.916},
{"c":"Teriflunomide Cohort","t":616,"s":0.913},{"c":"Teriflunomide Cohort","t":632,"s":0.913},{"c":"Teriflunomide Cohort","t":648,"s":0.913},
{"c":"Teriflunomide Cohort","t":656,"s":0.908},{"c":"Teriflunomide Cohort","t":672,"s":0.908},{"c":"Teriflunomide Cohort","t":688,"s":0.908},
{"c":"Teriflunomide Cohort","t":704,"s":0.904},{"c":"Teriflunomide Cohort","t":720,"s":0.904},{"c":"Teriflunomide Cohort","t":736,"s":0.904},
{"c":"Teriflunomide Cohort","t":752,"s":0.902},{"c":"Teriflunomide Cohort","t":768,"s":0.902},{"c":"Teriflunomide Cohort","t":784,"s":0.902},
{"c":"Teriflunomide Cohort","t":800,"s":0.895},{"c":"Teriflunomide Cohort","t":816,"s":0.895},
{"c":"Teriflunomide Cohort","t":832,"s":0.887},{"c":"Teriflunomide Cohort","t":848,"s":0.887},{"c":"Teriflunomide Cohort","t":864,"s":0.887},{"c":"Teriflunomide Cohort","t":880,"s":0.887},{"c":"Teriflunomide Cohort","t":896,"s":0.887},{"c":"Teriflunomide Cohort","t":912,"s":0.887},
{"c":"Teriflunomide Cohort","t":928,"s":0.884},{"c":"Teriflunomide Cohort","t":944,"s":0.884},{"c":"Teriflunomide Cohort","t":960,"s":0.884},
{"c":"Teriflunomide Cohort","t":976,"s":0.88},{"c":"Teriflunomide Cohort","t":992,"s":0.88},
{"c":"Teriflunomide Cohort","t":1008,"s":0.877},{"c":"Teriflunomide Cohort","t":1024,"s":0.877},{"c":"Teriflunomide Cohort","t":1040,"s":0.877},{"c":"Teriflunomide Cohort","t":1056,"s":0.877},
{"c":"Teriflunomide Cohort","t":1072,"s":0.874},{"c":"Teriflunomide Cohort","t":1088,"s":0.874},
{"c":"Teriflunomide Cohort","t":1104,"s":0.862},
{"c":"Teriflunomide Cohort","t":1120,"s":0.848},{"c":"Teriflunomide Cohort","t":1136,"s":0.848},{"c":"Teriflunomide Cohort","t":1152,"s":0.848},{"c":"Teriflunomide Cohort","t":1168,"s":0.848},{"c":"Teriflunomide Cohort","t":1184,"s":0.848},{"c":"Teriflunomide Cohort","t":1200,"s":0.848},
{"c":"Teriflunomide Cohort","t":1216,"s":0.843},{"c":"Teriflunomide Cohort","t":1232,"s":0.843},{"c":"Teriflunomide Cohort","t":1248,"s":0.843},
{"c":"Teriflunomide Cohort","t":1264,"s":0.838},{"c":"Teriflunomide Cohort","t":1280,"s":0.838},{"c":"Teriflunomide Cohort","t":1296,"s":0.838},{"c":"Teriflunomide Cohort","t":1312,"s":0.838},{"c":"Teriflunomide Cohort","t":1328,"s":0.838},{"c":"Teriflunomide Cohort","t":1344,"s":0.838},{"c":"Teriflunomide Cohort","t":1360,"s":0.838},
{"c":"Teriflunomide Cohort","t":1376,"s":0.832},{"c":"Teriflunomide Cohort","t":1392,"s":0.832},{"c":"Teriflunomide Cohort","t":1408,"s":0.832},{"c":"Teriflunomide Cohort","t":1424,"s":0.832},
{"c":"Teriflunomide Cohort","t":1440,"s":0.827},{"c":"Teriflunomide Cohort","t":1456,"s":0.827},{"c":"Teriflunomide Cohort","t":1472,"s":0.827},
{"c":"Teriflunomide Cohort","t":1488,"s":0.822},
{"c":"Teriflunomide Cohort","t":1504,"s":0.8165},{"c":"Teriflunomide Cohort","t":1520,"s":0.8165},{"c":"Teriflunomide Cohort","t":1536,"s":0.8165},{"c":"Teriflunomide Cohort","t":1552,"s":0.8165},{"c":"Teriflunomide Cohort","t":1568,"s":0.8165},{"c":"Teriflunomide Cohort","t":1584,"s":0.8165},{"c":"Teriflunomide Cohort","t":1600,"s":0.8165},{"c":"Teriflunomide Cohort","t":1616,"s":0.8165},{"c":"Teriflunomide Cohort","t":1632,"s":0.8165},{"c":"Teriflunomide Cohort","t":1648,"s":0.8165},{"c":"Teriflunomide Cohort","t":1664,"s":0.8165},
{"c":"Teriflunomide Cohort","t":1680,"s":0.812},{"c":"Teriflunomide Cohort","t":1696,"s":0.812},{"c":"Teriflunomide Cohort","t":1712,"s":0.812},{"c":"Teriflunomide Cohort","t":1728,"s":0.812},{"c":"Teriflunomide Cohort","t":1744,"s":0.812},{"c":"Teriflunomide Cohort","t":1760,"s":0.812},{"c":"Teriflunomide Cohort","t":1776,"s":0.812},{"c":"Teriflunomide Cohort","t":1792,"s":0.812},{"c":"Teriflunomide Cohort","t":1808,"s":0.812},{"c":"Teriflunomide Cohort","t":1824,"s":0.812},{"c":"Teriflunomide Cohort","t":1840,"s":0.812},{"c":"Teriflunomide Cohort","t":1856,"s":0.812},{"c":"Teriflunomide Cohort","t":1872,"s":0.812},{"c":"Teriflunomide Cohort","t":1883,"s":0.812},{"c":"Teriflunomide Cohort","t":1922,"s":0.812},{"c":"Teriflunomide Cohort","t":1940,"s":0.812},{"c":"Teriflunomide Cohort","t":1958,"s":0.812},{"c":"Teriflunomide Cohort","t":1990,"s":0.812},{"c":"Teriflunomide Cohort","t":2008,"s":0.812},
{"c":"Teriflunomide Cohort","t":2035,"s":0.799},{"c":"Teriflunomide Cohort","t":2052,"s":0.799},{"c":"Teriflunomide Cohort","t":2075,"s":0.799},{"c":"Teriflunomide Cohort","t":2092,"s":0.799},{"c":"Teriflunomide Cohort","t":2112,"s":0.799},{"c":"Teriflunomide Cohort","t":2130,"s":0.799},{"c":"Teriflunomide Cohort","t":2150,"s":0.799},{"c":"Teriflunomide Cohort","t":2168,"s":0.799},{"c":"Teriflunomide Cohort","t":2185,"s":0.799},{"c":"Teriflunomide Cohort","t":2200,"s":0.799},
{"c":"Teriflunomide Cohort","t":2232,"s":0.781},{"c":"Teriflunomide Cohort","t":2248,"s":0.781},{"c":"Teriflunomide Cohort","t":2264,"s":0.781},{"c":"Teriflunomide Cohort","t":2280,"s":0.781},{"c":"Teriflunomide Cohort","t":2296,"s":0.781},{"c":"Teriflunomide Cohort","t":2312,"s":0.781},{"c":"Teriflunomide Cohort","t":2326,"s":0.781},{"c":"Teriflunomide Cohort","t":2350,"s":0.781},{"c":"Teriflunomide Cohort","t":2366,"s":0.781},{"c":"Teriflunomide Cohort","t":2382,"s":0.781},{"c":"Teriflunomide Cohort","t":2410,"s":0.781},{"c":"Teriflunomide Cohort","t":2428,"s":0.781},{"c":"Teriflunomide Cohort","t":2448,"s":0.781},{"c":"Teriflunomide Cohort","t":2464,"s":0.781},{"c":"Teriflunomide Cohort","t":2480,"s":0.781},{"c":"Teriflunomide Cohort","t":2496,"s":0.781},{"c":"Teriflunomide Cohort","t":2512,"s":0.781},{"c":"Teriflunomide Cohort","t":2528,"s":0.781},{"c":"Teriflunomide Cohort","t":2544,"s":0.781}
]
},
"layer": [
{
  "data": {"name": "curve"},
  "mark": {"type": "line", "interpolate": "step-after", "strokeWidth": 1.5},
  "encoding": {
    "x": {"field": "t", "type": "quantitative", "scale": {"domain": [-13.9, 2579], "nice": false, "zero": false}, "axis": {"title": "Time (Days)", "values": [0, 500, 1000, 1500, 2000, 2500], "format": "d", "labelPadding": 12, "titlePadding": 20}},
    "y": {"field": "s", "type": "quantitative", "scale": {"domain": [-0.0099, 1.0157], "nice": false, "zero": false}, "axis": {"title": "Time to Event", "values": [0, 0.1, 0.2, 0.3, 0.4, 0.5, 0.6, 0.7, 0.8, 0.9, 1.0], "format": ".1f", "labelPadding": 9, "titlePadding": 32}},
    "color": {"field": "c", "type": "nominal", "scale": {"domain": ["Dimethyl Fumarate Cohort", "Fingolimod Cohort", "Glatiramer Acetate Cohor", "Teriflunomide Cohort"], "range": ["#000000", "#008000", "#ff0000", "#0000ff"]},
      "legend": {"title": "cohort", "orient": "none", "legendX": 164, "legendY": 772, "direction": "horizontal", "columns": 2, "symbolType": "M-4.67,0H27.33", "symbolSize": 36, "symbolStrokeWidth": 1.5, "titleAnchor": "middle", "padding": 8, "strokeColor": "#c8c8c8", "fillColor": "white", "columnPadding": 10, "rowPadding": 3, "labelOffset": 84, "titlePadding": 4}}
  }
},
{
  "data": {"name": "censor"},
  "mark": {"type": "point", "filled": true, "size": 56, "opacity": 1, "shape": "M-1.2,-0.6L-0.8,-1H0.8L1.2,-0.6V0.6L0.8,1H-0.8L-1.2,0.6Z"},
  "encoding": {
    "x": {"field": "t", "type": "quantitative"},
    "y": {"field": "s", "type": "quantitative"},
    "color": {"field": "c", "type": "nominal"},
    "opacity": {"datum": "Censored", "type": "ordinal", "scale": {"range": [1]},
      "legend": {"title": null, "orient": "none", "legendX": 964, "legendY": 10, "padding": 4, "strokeColor": "#c8c8c8", "fillColor": "white", "symbolType": "M-1,0H1M0,-1V1", "symbolSize": 169, "symbolStrokeColor": "black", "symbolStrokeWidth": 1.5, "symbolFillColor": "transparent", "labelOffset": 0,
        "encode": {"symbols": {"update": {"stroke": {"value": "black"}, "strokeWidth": {"value": 1.5}, "fill": {"value": "transparent"}}}}}}
  }
}
]
}
